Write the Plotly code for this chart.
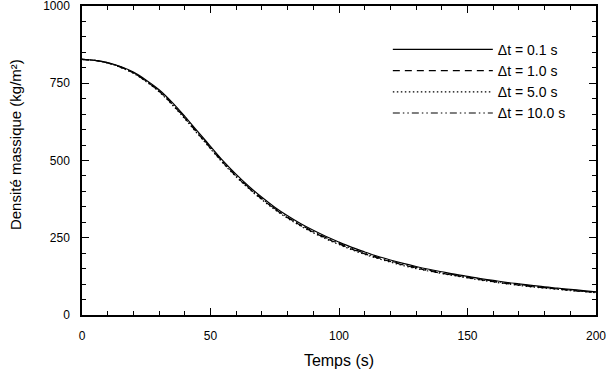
import plotly.graph_objects as go

temps = [0, 5, 10, 15, 20, 25, 30, 35, 40, 45, 50, 55, 60, 65, 70, 75, 80, 85, 90, 95, 100,
         105, 110, 115, 120, 125, 130, 135, 140, 145, 150, 155, 160, 165, 170, 175, 180, 185, 190, 195, 200]

dt_01 = [827, 824, 817, 804, 786, 760, 729, 689, 643, 594, 546, 498, 455, 416, 381, 349, 321, 296, 274, 254, 236,
         219, 204, 190, 178, 167, 157, 148, 140, 132, 125, 118, 112, 106, 101, 96, 91, 87, 83, 79, 75]
dt_10 = [827, 824, 816, 802, 783, 756, 724, 683, 637, 588, 540, 492, 449, 410, 375, 343, 315, 290, 268, 248, 230,
         213, 198, 185, 173, 162, 152, 143, 135, 128, 121, 114, 108, 102, 97, 92, 88, 84, 80, 76, 73]
dt_50 = [827, 824, 816, 801, 782, 755, 722, 681, 635, 586, 538, 490, 447, 408, 373, 341, 313, 288, 266, 246, 228,
         211, 196, 183, 171, 160, 150, 142, 134, 127, 120, 113, 107, 101, 96, 91, 87, 83, 79, 76, 72]
dt_100 = [827, 824, 816, 803, 784, 757, 725, 685, 639, 590, 542, 494, 451, 412, 377, 345, 317, 292, 270, 250, 232,
          215, 200, 187, 175, 164, 154, 145, 137, 130, 123, 116, 110, 104, 99, 94, 89, 85, 81, 77, 74]

labels = ["\u0394t = 0.1 s", "\u0394t = 1.0 s", "\u0394t = 5.0 s", "\u0394t = 10.0 s"]
series = [dt_01, dt_10, dt_50, dt_100]
dashes = ["solid", "7px,5px", "1.5px,2.5px", "7px,3px,1.5px,3px,1.5px,3px"]

fig = go.Figure()
for lab, ys, d in zip(labels, series, dashes):
    fig.add_trace(go.Scatter(x=temps, y=ys, mode="lines", name=lab,
                             line=dict(color="black", width=1.2, dash=d, shape="spline")))

font = "Liberation Sans, Arial, sans-serif"
axis_common = dict(showline=True, linecolor="black", linewidth=1.5, mirror="ticks",
                   ticks="inside", ticklen=7, tickwidth=1.2, tickcolor="black",
                   showgrid=False, zeroline=False, ticklabeloverflow="allow",
                   tickfont=dict(family=font, size=12, color="black"))

fig.update_layout(
    width=611, height=380,
    margin=dict(l=82, r=15, t=6, b=65),
    paper_bgcolor="white", plot_bgcolor="white",
    xaxis=dict(range=[0, 200], tickvals=[0, 50, 100, 150, 200], ticklabelstandoff=9,
               automargin="bottom",
               minor=dict(dtick=10, ticks="inside", ticklen=4, tickwidth=1, tickcolor="black"),
               title=dict(text="Temps (s)", font=dict(family=font, size=16, color="black"), standoff=13),
               **axis_common),
    yaxis=dict(range=[0, 1000], tickvals=[0, 250, 500, 750, 1000], ticklabelstandoff=8,
               automargin="left",
               minor=dict(dtick=50, ticks="inside", ticklen=4, tickwidth=1, tickcolor="black"),
               **axis_common),
    legend=dict(x=0.595, y=0.91, xanchor="left", yanchor="top", bgcolor="rgba(0,0,0,0)",
                itemwidth=100, font=dict(family=font, size=14, color="black"),
                tracegroupgap=0),
    showlegend=True,
    annotations=[dict(text="Densité massique (kg/m²)", textangle=-90, showarrow=False,
                      xref="paper", yref="paper", x=0, y=0.55, xanchor="center", yanchor="middle",
                      xshift=-67, font=dict(family=font, size=15, color="black"))],
)

fig.write_html("out.html")
